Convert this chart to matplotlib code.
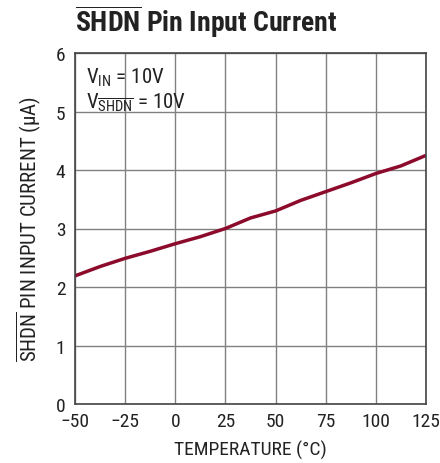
import matplotlib
matplotlib.use('Agg')
import matplotlib.pyplot as plt
import matplotlib as mpl
from matplotlib import font_manager

# ---- fonts: pick a condensed sans if one is installed ----
installed = {f.name for f in font_manager.fontManager.ttflist}
candidates = ['Roboto Condensed', 'Archivo Narrow', 'PT Sans Narrow', 'Fira Sans Condensed',
              'IBM Plex Sans Condensed', 'Open Sans Condensed', 'Sofia Sans Semi Condensed',
              'Sofia Sans Condensed', 'Barlow Semi Condensed', 'Liberation Sans Narrow']
narrow = next((c for c in candidates if c in installed), 'DejaVu Sans')

mpl.rcParams['font.family'] = [narrow, 'DejaVu Sans']
mpl.rcParams['mathtext.fontset'] = 'custom'
mpl.rcParams['mathtext.rm'] = narrow
mpl.rcParams['mathtext.it'] = narrow
mpl.rcParams['mathtext.bf'] = narrow + ':bold'

# ---- data ----
temperature = [-50, -37.5, -25, -12.5, 0, 12.5, 25, 37.5, 50, 62.5, 75, 87.5, 100, 112.5, 125]
current_ua = [2.19, 2.35, 2.49, 2.61, 2.74, 2.86, 3.00, 3.18, 3.30, 3.48, 3.63, 3.78, 3.94, 4.07, 4.25]

x_ticks = [-50, -25, 0, 25, 50, 75, 100, 125]
x_labels = ['\u221250', '\u221225', '0', '25', '50', '75', '100', '125']
y_ticks = [0, 1, 2, 3, 4, 5, 6]

fig = plt.figure(figsize=(4.4, 4.64), dpi=100)
ax = fig.add_axes([75 / 440, 59 / 464, 351 / 440, 351 / 464])

ax.plot(temperature, current_ua, color='#8c0b2c', linewidth=2.5,
        solid_capstyle='butt', solid_joinstyle='round')

ax.set_xlim(-50, 125)
ax.set_ylim(0, 6)
ax.set_xticks(x_ticks)
ax.set_xticklabels(x_labels)
ax.set_yticks(y_ticks)
ax.tick_params(length=0, labelsize=14, colors='#222222')
ax.tick_params(axis='x', pad=6)
ax.tick_params(axis='y', pad=7)
ax.grid(True, color='#808080', linewidth=1.0)
for s in ax.spines.values():
    s.set_color('#444444')
    s.set_linewidth(1.2)

ax.set_xlabel('TEMPERATURE (\u00b0C)', fontsize=14, color='#222222', labelpad=7)
ax.set_ylabel(r'$\overline{\mathrm{SHDN}}$ PIN INPUT CURRENT (' + '\u03bc' + 'A)', fontsize=15,
              color='#222222', labelpad=9)

ax.text(0.03, 0.965, r'V$_{\mathrm{IN}}$ = 10V', transform=ax.transAxes,
        fontsize=15, va='top', ha='left', color='#222222')
ax.text(0.03, 0.895, r'V$_{\overline{\mathrm{SHDN}}}$ = 10V', transform=ax.transAxes,
        fontsize=15, va='top', ha='left', color='#222222')

fig.text(75 / 440, 1 - 3 / 464, r'$\overline{\mathbf{SHDN}}$ Pin Input Current',
         fontsize=20, fontweight='bold', va='top', ha='left', color='#222222')

fig.savefig('out.png', dpi=100)
